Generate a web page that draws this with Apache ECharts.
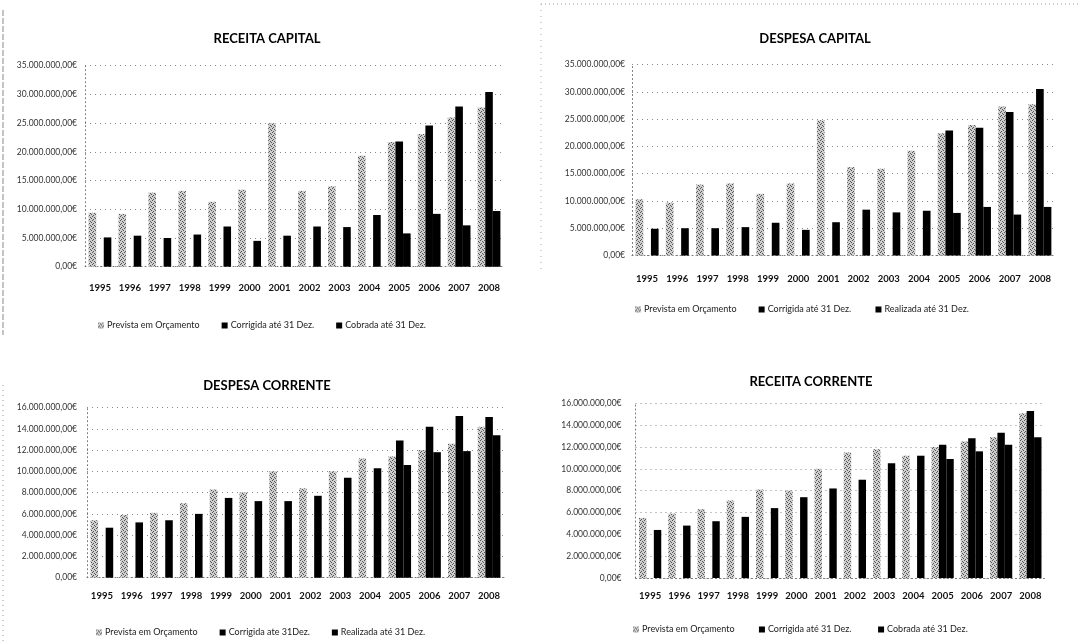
<!DOCTYPE html>
<html>
<head>
<meta charset="utf-8">
<script src="https://cdn.jsdelivr.net/npm/echarts@6/dist/echarts.min.js"></script>
<style>
html,body{margin:0;padding:0;background:#fff;}
#c{width:1080px;height:641px;}
</style>
</head>
<body>
<div id="c"></div>
<script>
// ---- data (values in millions of euros) ----
var years = ['1995','1996','1997','1998','1999','2000','2001','2002','2003','2004','2005','2006','2007','2008'];

var recCapPrevista  = [9.4, 9.2, 12.9, 13.2, 11.3, 13.4, 25.0, 13.2, 14.0, 19.3, 21.7, 23.1, 26.0, 27.7];
var recCapCorrigida = [null, null, null, null, null, null, null, null, null, null, 21.8, 24.6, 27.9, 30.4];
var recCapCobrada   = [5.1, 5.4, 5.0, 5.6, 7.0, 4.5, 5.4, 7.0, 6.9, 9.0, 5.8, 9.2, 7.2, 9.7];

var desCapPrevista  = [10.3, 9.7, 13.0, 13.2, 11.3, 13.2, 24.8, 16.2, 15.9, 19.2, 22.4, 23.9, 27.3, 27.7];
var desCapCorrigida = [null, null, null, null, null, null, null, null, null, null, 22.9, 23.4, 26.3, 30.5];
var desCapRealizada = [4.9, 5.0, 5.0, 5.2, 6.0, 4.7, 6.1, 8.4, 7.9, 8.2, 7.8, 8.9, 7.5, 8.9];

var desCorPrevista  = [5.4, 5.9, 6.1, 7.0, 8.3, 8.0, 10.0, 8.4, 10.0, 11.2, 11.4, 12.0, 12.6, 14.2];
var desCorCorrigida = [null, null, null, null, null, null, null, null, null, null, 12.9, 14.2, 15.2, 15.1];
var desCorRealizada = [4.7, 5.2, 5.4, 6.0, 7.5, 7.2, 7.2, 7.7, 9.4, 10.3, 10.6, 11.8, 11.9, 13.4];

var recCorPrevista  = [5.5, 5.9, 6.3, 7.1, 8.1, 8.0, 10.0, 11.5, 11.8, 11.2, 12.0, 12.5, 12.9, 15.1];
var recCorCorrigida = [null, null, null, null, null, null, null, null, null, null, 12.2, 12.8, 13.3, 15.3];
var recCorCobrada   = [4.4, 4.8, 5.2, 5.6, 6.4, 7.4, 8.2, 9.0, 10.5, 11.2, 10.9, 11.6, 12.2, 12.9];

var capitalAxis = {min: 0, max: 35000000, interval: 5000000};
var correnteAxis = {min: 0, max: 16000000, interval: 2000000};

var titles = ['RECEITA CAPITAL', 'DESPESA CAPITAL', 'DESPESA CORRENTE', 'RECEITA CORRENTE'];
var legendNames = [
  ['Prevista em Orçamento', 'Corrigida até 31 Dez.', 'Cobrada até 31 Dez.'],
  ['Prevista em Orçamento', 'Corrigida até 31 Dez. ', 'Realizada até 31 Dez.'],
  ['Prevista em Orçamento', 'Corrigida ate 31Dez.', 'Realizada até 31 Dez. '],
  ['Prevista em Orçamento ', 'Corrigida até 31 Dez.  ', 'Cobrada até 31 Dez. ']
];
var panelData = [
  [recCapPrevista, recCapCorrigida, recCapCobrada],
  [desCapPrevista, desCapCorrigida, desCapRealizada],
  [desCorPrevista, desCorCorrigida, desCorRealizada],
  [recCorPrevista, recCorCorrigida, recCorCobrada]
];
var panelAxis = [capitalAxis, capitalAxis, correnteAxis, correnteAxis];

// ---- layout ----
var grids = [
  {left: 85, right: 576, top: 65.7, bottom: 374.3},
  {left: 632, right: 25, top: 64.5, bottom: 385.5},
  {left: 87, right: 576, top: 407.5, bottom: 63.3},
  {left: 635.5, right: 35, top: 403.3, bottom: 63}
];
var titlePos = [[262, 27], [810, 27], [262, 374], [806, 370]];
var legendPos = [[93, 316], [630, 300], [91, 623], [628, 620]];
var xLabelMargin = [16, 18, 13, 13];
var yLabelMargin = [8, 7, 10, 14];

// stipple pattern for "Prevista"
var pat = document.createElement('canvas');
pat.width = 4; pat.height = 4;
var pc = pat.getContext('2d');
pc.fillStyle = '#cfcfcf'; pc.fillRect(0, 0, 4, 4);
pc.fillStyle = '#555';
[[0,0],[2,1],[1,3],[3,2]].forEach(function(p){ pc.fillRect(p[0], p[1], 1, 1); });
var prevColor = {image: pat, repeat: 'repeat'};

function fmt(v) {
  var s = String(Math.round(v)).replace(/\B(?=(\d{3})+(?!\d))/g, '.');
  return s + ',00€';
}
function toEuro(arr) { return arr.map(function(v){ return v == null ? null : v * 1000000; }); }

var option = {
  animation: false,
  backgroundColor: '#fff',
  title: [], grid: [], xAxis: [], yAxis: [], legend: [], series: [],
  graphic: [
    {type: 'line', shape: {x1: 3, y1: 10, x2: 3, y2: 335}, style: {stroke: '#888', lineWidth: 1, lineDash: [6, 2]}},
    {type: 'line', shape: {x1: 3, y1: 385, x2: 3, y2: 641}, style: {stroke: '#999', lineWidth: 1, lineDash: [1, 4]}},
    {type: 'line', shape: {x1: 541, y1: 4, x2: 1080, y2: 4}, style: {stroke: '#999', lineWidth: 1, lineDash: [1, 3]}},
    {type: 'line', shape: {x1: 541, y1: 4, x2: 541, y2: 270}, style: {stroke: '#aaa', lineWidth: 1, lineDash: [1, 5]}}
  ]
};

for (var i = 0; i < 4; i++) {
  option.title.push({
    text: titles[i], left: titlePos[i][0], top: titlePos[i][1], textAlign: 'center',
    textStyle: {fontFamily: 'Lato', fontWeight: 'bold', fontSize: 13, color: '#000'}
  });
  var g = grids[i];
  option.grid.push({left: g.left, right: g.right, top: g.top, bottom: g.bottom, containLabel: false});
  option.xAxis.push({
    type: 'category', gridIndex: i, data: years,
    axisLine: {show: true, lineStyle: {color: '#777', type: [1, 3], width: 1}},
    axisTick: {show: false},
    axisLabel: {interval: 0, margin: xLabelMargin[i], fontFamily: 'Lato', fontWeight: 'bold', fontSize: 9.5, color: '#111'}
  });
  var ax = panelAxis[i];
  option.yAxis.push({
    type: 'value', gridIndex: i, min: ax.min, max: ax.max, interval: ax.interval,
    axisLine: {show: true, lineStyle: {color: '#777', type: [1, 3], width: 1}},
    axisTick: {show: false},
    splitLine: {show: true, lineStyle: {color: '#888', type: [1, 4], width: 1}},
    axisLabel: {margin: yLabelMargin[i], fontFamily: 'Lato', fontSize: 8.5, color: '#333', formatter: fmt}
  });
  option.legend.push({
    left: legendPos[i][0], top: legendPos[i][1], itemGap: 22, itemWidth: 6, itemHeight: 6,
    icon: 'rect', data: legendNames[i],
    textStyle: {fontFamily: 'Lato', fontSize: 9, color: '#222', padding: [0, 0, 0, -2]}
  });
  var colors = [prevColor, '#000', '#000'];
  for (var s = 0; s < 3; s++) {
    option.series.push({
      type: 'bar', name: legendNames[i][s], xAxisIndex: i, yAxisIndex: i,
      data: toEuro(panelData[i][s]),
      barGap: '0%', barCategoryGap: '24%',
      itemStyle: {color: colors[s]}
    });
  }
}

var chart = echarts.init(document.getElementById('c'), null, {renderer: 'canvas'});
chart.setOption(option);
</script>
</body>
</html>
